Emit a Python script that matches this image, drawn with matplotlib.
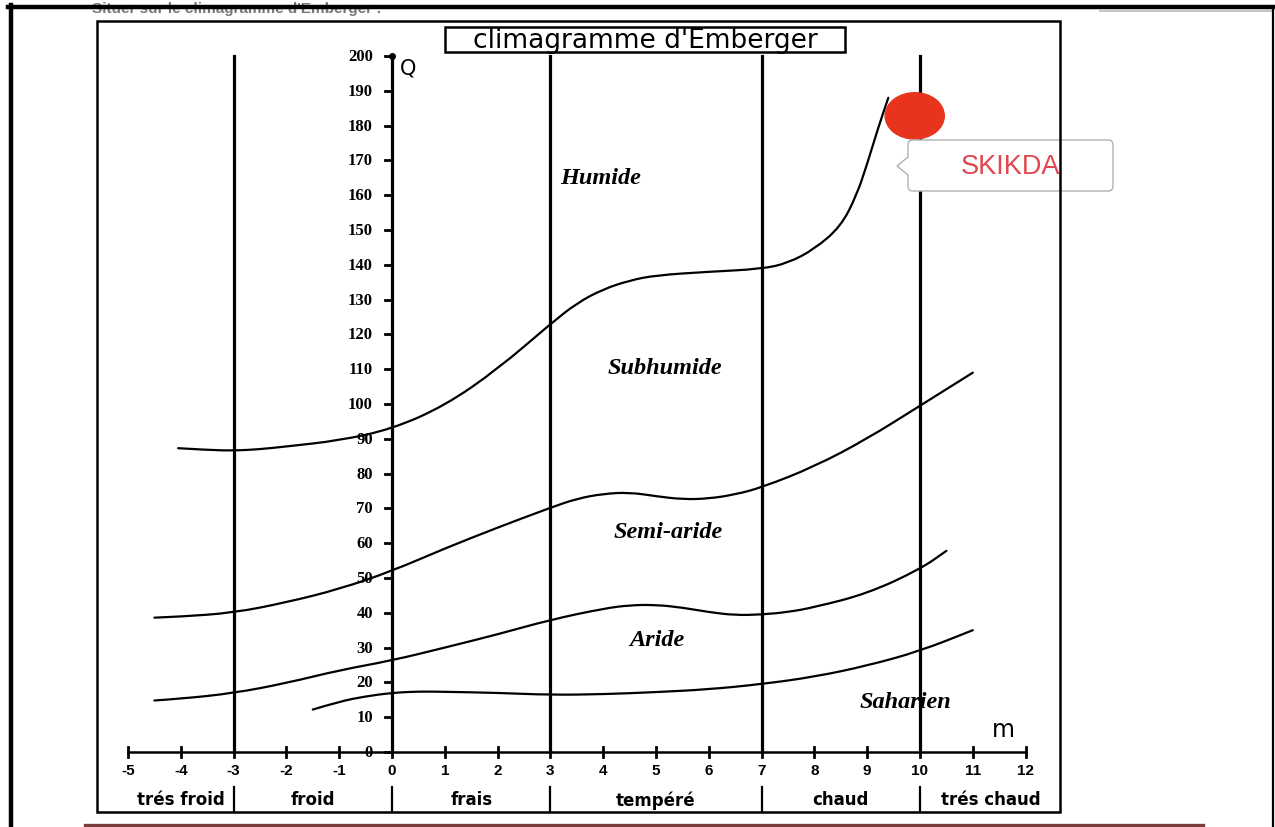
import matplotlib
matplotlib.use("Agg")
import matplotlib.pyplot as plt
from matplotlib.path import Path
from matplotlib.patches import PathPatch, Ellipse, Rectangle
from matplotlib.lines import Line2D
from matplotlib.transforms import Affine2D

# ---------------- data ----------------
humide_m = [-4.05, -3.5, -3, -2.5, -2, -1, 0, 1, 2, 3, 3.5, 4, 4.5, 5, 6, 7, 7.5, 8, 8.5, 8.8, 9, 9.2, 9.4]
humide_q = [87.3, 86.8, 86.6, 87, 87.8, 89.5, 92.8, 99.5, 110, 123, 129, 133, 135.5, 137, 138, 138.8, 140.5, 144.5, 151, 160, 169, 179, 188]

semiaride_m = [-4.5, -4, -3, -2, -1, 0, 1, 2, 3, 3.5, 4, 4.5, 5, 5.5, 6, 6.5, 7, 8, 9, 10, 11]
semiaride_q = [38.6, 38.9, 40, 43, 46.8, 52, 58.5, 64.5, 70.2, 72.8, 74.2, 74.6, 73.5, 72.6, 72.8, 74, 76, 82, 90, 99.5, 109]

aride_m = [-4.5, -4, -3, -2, -1, 0, 1, 2, 3, 4, 4.5, 5, 5.5, 6, 6.5, 7, 7.5, 8, 9, 10, 10.5]
aride_q = [14.8, 15.3, 16.9, 19.8, 23.5, 26.3, 30, 33.8, 38, 41.2, 42.2, 42.3, 41.5, 40.2, 39.3, 39.5, 40.2, 41.6, 45.5, 52.5, 57.8]

saharien_m = [-1.5, -1, -0.5, 0, 0.5, 1, 2, 3, 4, 5, 6, 7, 8, 9, 10, 11]
saharien_q = [12.2, 14.5, 16, 17, 17.4, 17.3, 17, 16.4, 16.6, 17.2, 18, 19.5, 21.6, 24.8, 29, 35]

station_name = "SKIKDA"
station_m = 9.9
station_q = 182.8

x_ticks = list(range(-5, 13))
y_ticks = list(range(0, 201, 10))
zone_bounds = [-3, 3, 7, 10]
class_bounds = [-5, -3, 0, 3, 7, 10, 12.7]
class_names = ["trés froid", "froid", "frais", "tempéré", "chaud", "trés chaud"]
region_names = ["Humide", "Subhumide", "Semi-aride", "Aride", "Saharien"]
region_pos = [(3.96, 165), (5.17, 110.6), (5.23, 63.5), (5.02, 32.2), (9.72, 14.4)]

# ---------------- figure ----------------
W, H = 1275, 828
fig = plt.figure(figsize=(W / 100, H / 100), dpi=100)
fig.patch.set_facecolor("white")
ax = fig.add_axes([0, 0, 1, 1])
ax.set_xlim(-392 / 52.8, (W - 392) / 52.8)
ax.set_ylim(-(H - 753) / 3.48, 753 / 3.48)
ax.axis("off")
PX = Affine2D().scale(1 / W, -1 / H).translate(0, 1) + fig.transFigure

# faint header text (partly hidden behind the frame line)
fig.text(92 / W, 1 - 9 / H, "Situer sur le climagramme d'Emberger :", transform=fig.transFigure,
         fontsize=11, fontweight="bold", color="#777777", va="center", ha="left",
         family="Liberation Sans", zorder=0)

# outer frame
for xs, ys, lw in [([10.5, 10.5], [6, 828], 3.2), ([8, 1275], [8, 8], 3.2), ([1273, 1273], [8, 828], 1.6)]:
    fig.add_artist(Line2D(xs, ys, transform=PX, color="black", lw=lw, zorder=10))
fig.add_artist(Line2D([1100, 1272], [11.5, 11.5], transform=PX, color="#bbbbbb", lw=1.2, zorder=9))
# inner box
fig.add_artist(Rectangle((97, 22), 963, 791, transform=PX, fill=False, ec="black", lw=1.8, zorder=10))
# bottom line
fig.add_artist(Line2D([85, 1203], [826.5, 826.5], transform=PX, color="#7a3d3d", lw=2.4, zorder=10))

# title
fig.add_artist(Rectangle((445, 28), 400, 25, transform=PX, fill=False, ec="black", lw=1.8, zorder=10))
fig.text(645 / W, 1 - 41.5 / H, "climagramme d'Emberger", fontsize=19, family="DejaVu Sans",
         ha="center", va="center", color="black")


def smooth(xs, ys):
    verts = [(xs[0], ys[0])]
    codes = [Path.MOVETO]
    for i in range(1, len(xs) - 1):
        verts += [(xs[i], ys[i]), ((xs[i] + xs[i + 1]) / 2, (ys[i] + ys[i + 1]) / 2)]
        codes += [Path.CURVE3, Path.CURVE3]
    verts.append((xs[-1], ys[-1]))
    codes.append(Path.LINETO)
    return Path(verts, codes)


for xs, ys in [(humide_m, humide_q), (semiaride_m, semiaride_q), (aride_m, aride_q), (saharien_m, saharien_q)]:
    ax.add_patch(PathPatch(smooth(xs, ys), fill=False, ec="black", lw=1.6, capstyle="round", zorder=3))

# zone vertical lines
for m in zone_bounds:
    ax.plot([m, m], [0, 200], color="black", lw=2.3, zorder=2)
# category separators
for m in class_bounds[1:-1]:
    ax.plot([m, m], [-10, -17.2], color="black", lw=1.6, zorder=2)

# Q axis
ax.plot([0, 0], [0, 200], color="black", lw=2.3, zorder=2)
ax.plot([0], [200], "o", color="black", ms=4, zorder=2)
for q in y_ticks:
    ax.plot([-0.14, 0], [q, q], color="black", lw=2, zorder=2)
    ax.text(-0.36, q, str(q), ha="right", va="center", fontsize=12, fontweight="bold",
            family="Liberation Serif")
ax.text(0.3, 196.8, "Q", fontsize=15, ha="center", va="center", family="DejaVu Sans")

# m axis
ax.plot([x_ticks[0], x_ticks[-1]], [0, 0], color="black", lw=1.8, zorder=2)
for m in x_ticks:
    ax.plot([m, m], [-1.5, 1.5], color="black", lw=2, zorder=2)
    ax.text(m, -5.2, str(m), ha="center", va="center", fontsize=11, fontweight="bold",
            family="Liberation Sans")
ax.text(11.57, 6.6, "m", fontsize=17, ha="center", va="center", family="DejaVu Sans")

# category labels
for i, name in enumerate(class_names):
    cx = (class_bounds[i] + class_bounds[i + 1]) / 2
    ax.text(cx, -13.6, name, ha="center", va="center", fontsize=12, fontweight="bold",
            family="DejaVu Sans")

# region labels
for name, (mx, qy) in zip(region_names, region_pos):
    ax.text(mx, qy, name, ha="center", va="center", fontsize=17.5, fontweight="bold",
            fontstyle="italic", family="Liberation Serif")

# station point
ax.add_patch(Ellipse((station_m, station_q), 1.12, 13.3, color="#e8341c", zorder=6))

# callout
x0, x1, y0, y1, r = 908, 1113, 141, 192, 5
verts = [(x0 + r, y0), (x1 - r, y0), (x1, y0), (x1, y0 + r), (x1, y1 - r), (x1, y1), (x1 - r, y1),
         (x0 + r, y1), (x0, y1), (x0, y1 - r), (x0, 176), (897, 167), (x0, 158), (x0, y0 + r),
         (x0, y0), (x0 + r, y0), (x0 + r, y0)]
codes = [Path.MOVETO, Path.LINETO, Path.CURVE3, Path.CURVE3, Path.LINETO, Path.CURVE3, Path.CURVE3,
         Path.LINETO, Path.CURVE3, Path.CURVE3, Path.LINETO, Path.LINETO, Path.LINETO, Path.LINETO,
         Path.CURVE3, Path.CURVE3, Path.CLOSEPOLY]
fig.add_artist(PathPatch(Path(verts, codes), transform=PX, fc="white", ec="#b0b0b0", lw=1.0, zorder=7))
fig.text(1011 / W, 1 - 167 / H, station_name, fontsize=19.5, color="#e0474f", ha="center", va="center",
         family="Liberation Sans", zorder=8)

fig.savefig("out.png", dpi=100, facecolor="white")
